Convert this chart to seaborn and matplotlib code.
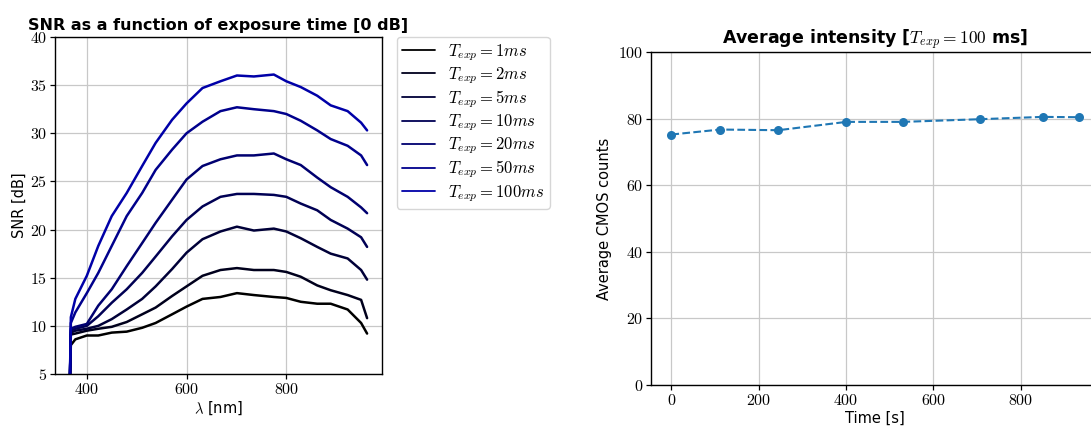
import numpy as np
import pandas as pd
import matplotlib
matplotlib.use("Agg")
import matplotlib.pyplot as plt
import seaborn as sns
from matplotlib.ticker import FuncFormatter, MultipleLocator

# ---------------- data ----------------
wavelength = [366, 368, 377, 400, 423, 450, 480, 511, 538, 571, 600, 632,
              668, 701, 735, 775, 800, 829, 862, 889, 923, 950, 962]

snr_1ms = [4, 8.0, 8.6, 9.0, 9.0, 9.3, 9.4, 9.8, 10.3, 11.2, 12.0, 12.8,
           13.0, 13.4, 13.2, 13.0, 12.9, 12.5, 12.3, 12.3, 11.7, 10.3, 9.2]
snr_2ms = [4, 9.1, 9.2, 9.5, 9.7, 9.9, 10.4, 11.2, 11.9, 13.1, 14.1, 15.2,
           15.8, 16.0, 15.8, 15.8, 15.6, 15.1, 14.2, 13.7, 13.2, 12.7, 10.8]
snr_5ms = [4, 9.3, 9.5, 9.7, 10.0, 10.7, 11.7, 12.8, 14.1, 15.9, 17.6, 19.0,
           19.8, 20.3, 19.9, 20.1, 19.8, 19.1, 18.2, 17.5, 17.0, 15.8, 14.8]
snr_10ms = [4, 9.5, 9.7, 10.0, 11.0, 12.4, 13.8, 15.5, 17.2, 19.3, 21.0, 22.4,
            23.4, 23.7, 23.7, 23.6, 23.4, 22.7, 22.0, 21.0, 20.1, 19.2, 18.2]
snr_20ms = [4, 9.7, 9.9, 10.2, 12.1, 13.8, 16.2, 18.6, 20.7, 23.1, 25.2, 26.6,
            27.3, 27.7, 27.7, 27.9, 27.3, 26.7, 25.4, 24.4, 23.4, 22.3, 21.7]
snr_50ms = [4, 10.3, 11.4, 13.4, 15.5, 18.3, 21.4, 23.8, 26.2, 28.3, 30.0, 31.2,
            32.3, 32.7, 32.5, 32.3, 32.0, 31.3, 30.3, 29.4, 28.7, 27.7, 26.7]
snr_100ms = [4, 10.9, 12.8, 15.2, 18.3, 21.4, 23.8, 26.6, 29.0, 31.4, 33.1, 34.7,
             35.4, 36.0, 35.9, 36.1, 35.4, 34.8, 33.9, 32.9, 32.3, 31.1, 30.3]

exposure_labels = [r"$T_{exp} = 1ms$", r"$T_{exp} = 2ms$", r"$T_{exp} = 5ms$",
                   r"$T_{exp} = 10ms$", r"$T_{exp} = 20ms$", r"$T_{exp} = 50ms$",
                   r"$T_{exp} = 100ms$"]

time_s = [0, 112, 245, 401, 531, 706, 851, 933]
avg_counts = [75.2, 76.7, 76.5, 79.0, 79.0, 79.8, 80.5, 80.4]

# ---------------- style ----------------
sns.set_style("ticks", {"axes.grid": True, "grid.color": "#c8c8c8",
                        "axes.edgecolor": "black", "xtick.color": "black",
                        "ytick.color": "black", "text.color": "black",
                        "axes.labelcolor": "black"})
plt.rcParams["font.family"] = ["DejaVu Sans"]
plt.rcParams["mathtext.fontset"] = "cm"
plt.rcParams["grid.linewidth"] = 0.9
plt.rcParams["axes.linewidth"] = 1.0

series = [snr_1ms, snr_2ms, snr_5ms, snr_10ms, snr_20ms, snr_50ms, snr_100ms]
rows = []
for lab, vals in zip(exposure_labels, series):
    for w, v in zip(wavelength, vals):
        rows.append({"wl": w, "snr": v, "exp": lab})
df = pd.DataFrame(rows)
colors = [(0, 0, 0.11 * k) for k in range(7)]

fig = plt.figure(figsize=(10.91, 4.30), dpi=100)
ax1 = fig.add_axes([0.0504, 0.1302, 0.2997, 0.7838])
ax2 = fig.add_axes([0.5967, 0.1047, 0.4106, 0.7745])

sns.lineplot(data=df, x="wl", y="snr", hue="exp", hue_order=exposure_labels,
             palette=colors, estimator=None, linewidth=1.8, ax=ax1)
ax1.set_ylim(5, 40)
ax1.yaxis.set_major_locator(MultipleLocator(5))
ax1.xaxis.set_major_locator(MultipleLocator(200))
ax1.set_xlabel(r"$\lambda$ [nm]", fontsize=10.5, labelpad=2)
ax1.set_ylabel("SNR [dB]", fontsize=10.5, labelpad=2)
ax1.set_title("SNR as a function of exposure time [0 dB]", fontsize=11.5,
              fontweight="bold", pad=5, color="black")
h, l = ax1.get_legend_handles_labels()
leg = ax1.legend(h, l, loc="upper left", bbox_to_anchor=(1.045, 1.0),
                 borderaxespad=0, fontsize=12, frameon=True, handlelength=2.0,
                 labelspacing=0.14, borderpad=0.3)
for ln in leg.get_lines():
    ln.set_linewidth(1.3)

sns.lineplot(x=time_s, y=avg_counts, marker="o", linestyle="--",
             color="#1f77b4", markersize=6.5, markeredgewidth=0,
             linewidth=1.5, ax=ax2)
ax2.set_ylim(0, 100)
ax2.yaxis.set_major_locator(MultipleLocator(20))
ax2.xaxis.set_major_locator(MultipleLocator(200))
ax2.set_xlabel("Time [s]", fontsize=10.5, labelpad=2)
ax2.set_ylabel("Average CMOS counts", fontsize=10.5, labelpad=4)
ax2.set_title(r"Average intensity [$T_{exp} = 100$ ms]", fontsize=12.5,
              fontweight="bold", color="black")

fmt = FuncFormatter(lambda v, p: f"${v:g}$")
for ax in (ax1, ax2):
    ax.xaxis.set_major_formatter(fmt)
    ax.yaxis.set_major_formatter(fmt)
    ax.tick_params(labelsize=11.5, length=3.5, width=0.9, direction="out", pad=2)
    ax.grid(True)

fig.savefig("out.png", dpi=100)
